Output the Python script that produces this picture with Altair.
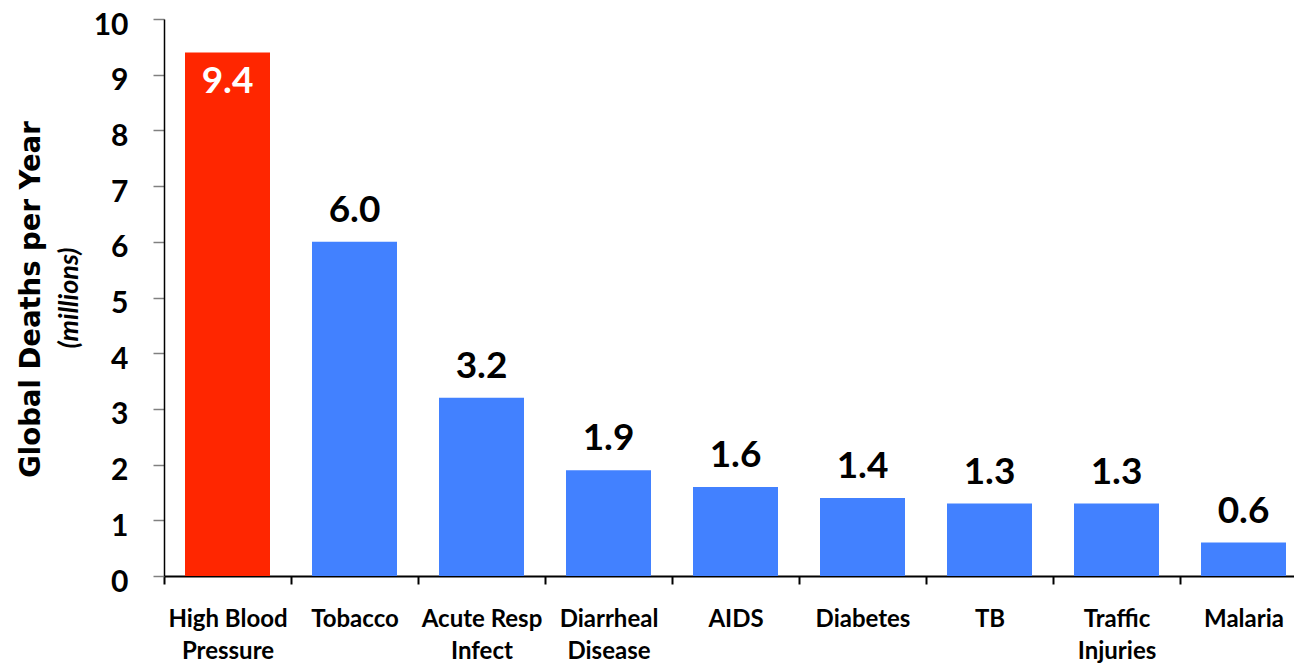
import altair as alt
import pandas as pd

# Leading causes of death worldwide, millions of deaths per year
causes = [
    "High Blood\nPressure",
    "Tobacco",
    "Acute Resp\nInfect",
    "Diarrheal\nDisease",
    "AIDS",
    "Diabetes",
    "TB",
    "Traffic\nInjuries",
    "Malaria",
]
deaths = [9.4, 6.0, 3.2, 1.9, 1.6, 1.4, 1.3, 1.3, 0.6]
highlight = [True, False, False, False, False, False, False, False, False]

df = pd.DataFrame({"cause": causes, "deaths": deaths, "highlight": highlight})
df["label"] = df["deaths"].map(lambda v: f"{v:.1f}")

RED = "#FF2600"
BLUE = "#4281FF"
FONT = "Lato"

x_enc = alt.X(
    "cause:N",
    sort=causes,
    title=None,
    scale=alt.Scale(range=[0, 1143], paddingInner=0, paddingOuter=0),
    axis=alt.Axis(
        labelExpr="split(datum.label, '\\n')",
        labelAngle=0,
        labelFont=FONT,
        labelFontWeight="bold",
        labelFontSize=24,
        labelColor="black",
        labelLineHeight=32,
        labelPadding=23,
        labelBaseline="top",
        tickBand="extent",
        tickSize=8,
        tickWidth=2,
        tickColor="black",
        domainColor="black",
        domainWidth=2,
        grid=False,
    ),
)

y_enc = alt.Y(
    "deaths:Q",
    scale=alt.Scale(domain=[0, 10], nice=False),
    axis=alt.Axis(
        values=list(range(0, 11)),
        title="Global Deaths per Year",
        titleFont="DejaVu Sans",
        titleFontWeight="bold",
        titleFontSize=27.5,
        titleColor="black",
        titleAngle=270,
        titleAlign="center",
        titleBaseline="alphabetic",
        titleX=-125,
        titleY=280,
        labelFont=FONT,
        labelFontWeight="bold",
        labelFontSize=30,
        labelColor="black",
        labelPadding=25,
        labelBaseline="alphabetic",
        labelOffset=15,
        labelFlush=False,
        tickSize=11,
        tickWidth=1.5,
        tickColor="#808080",
        domainColor="black",
        domainWidth=1.5,
        grid=False,
    ),
)

base = alt.Chart(df)

bars = base.mark_bar(width=alt.RelativeBandSize(85 / 127)).encode(
    x=x_enc,
    y=y_enc,
    color=alt.Color(
        "highlight:N",
        scale=alt.Scale(domain=[True, False], range=[RED, BLUE]),
        legend=None,
    ),
)

labels_above = (
    base.transform_filter("!datum.highlight")
    .mark_text(
        font=FONT,
        fontWeight="bold",
        fontSize=37,
        color="black",
        baseline="alphabetic",
        dy=-20,
    )
    .encode(x=alt.X("cause:N", sort=causes), y="deaths:Q", text="label:N")
)

labels_inside = (
    base.transform_filter("datum.highlight")
    .mark_text(
        font=FONT,
        fontWeight="bold",
        fontSize=37,
        color="white",
        baseline="alphabetic",
        dy=41,
    )
    .encode(x=alt.X("cause:N", sort=causes), y="deaths:Q", text="label:N")
)

units = (
    alt.Chart(pd.DataFrame({"t": ["(millions)"]}))
    .mark_text(
        font=FONT,
        fontWeight="bold",
        fontStyle="italic",
        fontSize=27,
        color="black",
        angle=270,
        align="center",
        baseline="alphabetic",
    )
    .encode(x=alt.value(-86), y=alt.value(279), text="t:N")
)

chart = (
    alt.layer(bars, labels_above, labels_inside, units)
    .properties(
        width=1130,
        height=557,
        autosize=alt.AutoSizeParams(type="none"),
        padding={"left": 164, "top": 19, "right": 0, "bottom": 88},
        background="white",
    )
    .configure_view(stroke=None)
)

chart.save("out.html", embed_options={"renderer": "svg", "actions": False})
